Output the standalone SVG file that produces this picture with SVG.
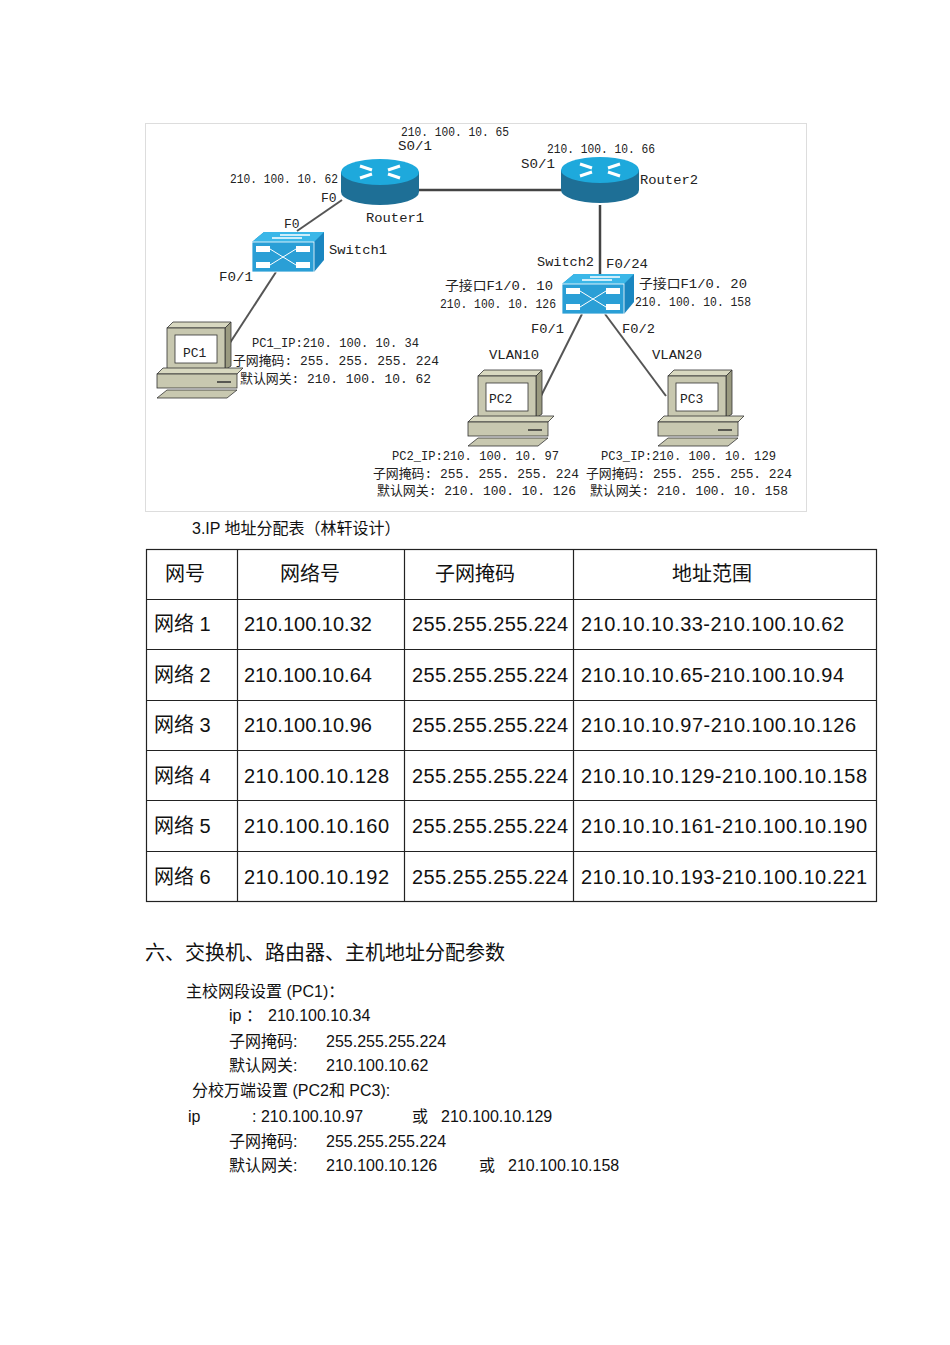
<svg xmlns="http://www.w3.org/2000/svg" xmlns:xlink="http://www.w3.org/1999/xlink" width="950" height="1345" viewBox="0 0 950 1345">
<style>
.d{font-family:"Liberation Mono","Noto Sans CJK SC",monospace;font-size:13px;fill:#222}
.t{font-family:"Liberation Sans","Noto Sans CJK SC",sans-serif;font-size:20px;fill:#111}
.b{font-family:"Liberation Sans","Noto Sans CJK SC",sans-serif;font-size:16px;fill:#111}
.h{font-family:"Liberation Sans","Noto Sans CJK SC",sans-serif;font-size:20px;fill:#111}
.ln{stroke:#444;stroke-width:2.5;fill:none}
.ln2{stroke:#555;stroke-width:2;fill:none}
.g{stroke:#222;stroke-width:1.2;fill:none}
</style>
<defs>
<g id="router">
<path d="M-39,0 v20 a39,13 0 0 0 78,0 v-20 z" fill="#1e6f96"/>
<ellipse cx="0" cy="0" rx="39" ry="13" fill="#1ea9dc"/>
<path d="M-20,-6 l12,4 M20,-6 l-12,4 M-20,6 l12,-4 M20,6 l-12,-4" stroke="#fff" stroke-width="3"/>
</g>
<g id="switch">
<path d="M0,10 L12,0 H72 L72,28 L62,40 H0 Z" fill="#1a86c0"/>
<path d="M0,10 L12,0 H72 L62,10 Z" fill="#3bb7e8"/>
<rect x="0" y="10" width="62" height="30" fill="#2a9fd6" stroke="#fff" stroke-width="0.8"/>
<rect x="4" y="14" width="14" height="6" fill="#fff"/><rect x="44" y="14" width="14" height="6" fill="#fff"/>
<rect x="4" y="30" width="14" height="6" fill="#fff"/><rect x="44" y="30" width="14" height="6" fill="#fff"/>
<path d="M18,17 L44,33 M18,33 L44,17" stroke="#fff" stroke-width="1"/>
<path d="M20,6 h30 M28,3 h30" stroke="#fff" stroke-width="1.5"/>
</g>
<g id="pc">
<path d="M0,6 L6,0 H64 L58,6 Z" fill="#d8d8c0" stroke="#333" stroke-width="0.8"/>
<path d="M58,6 L64,0 V44 L58,48 Z" fill="#9a9a80" stroke="#333" stroke-width="0.8"/>
<rect x="0" y="6" width="58" height="42" fill="#c8c8b0" stroke="#333" stroke-width="0.8"/>
<rect x="8" y="13" width="42" height="28" fill="#fff" stroke="#333" stroke-width="0.8"/>
<path d="M-10,52 L-4,46 H76 L70,52 Z" fill="#d8d8c0" stroke="#333" stroke-width="0.8"/>
<rect x="-10" y="52" width="80" height="14" fill="#c8c8b0" stroke="#333" stroke-width="0.8"/>
<path d="M50,60 h14" stroke="#333" stroke-width="1.5"/>
<path d="M-10,76 L0,68 H70 L60,76 Z" fill="#c8c8b0" stroke="#333" stroke-width="0.8"/>
</g>
</defs>
<rect width="950" height="1345" fill="#fff"/>
<rect x="145.5" y="123.5" width="661" height="388" fill="#fff" stroke="#ddd"/>
<g id="connectors">
<line class="ln" x1="418" y1="190" x2="562" y2="190"/>
<line class="ln" x1="600" y1="205" x2="600" y2="276"/>
<line class="ln2" x1="342" y1="200" x2="297" y2="231"/>
<line class="ln2" x1="276" y1="272" x2="224" y2="352"/>
<line class="ln2" x1="582" y1="314" x2="537" y2="404"/>
<line class="ln2" x1="605" y1="314" x2="666" y2="396"/>
</g>
<g id="router1"><use xlink:href="#router" x="380" y="172"/><text class="d" x="366" y="222" textLength="58" lengthAdjust="spacingAndGlyphs">Router1</text></g>
<g id="router2"><use xlink:href="#router" x="600" y="170"/><text class="d" x="640" y="184" textLength="58" lengthAdjust="spacingAndGlyphs">Router2</text></g>
<g id="switch1"><use xlink:href="#switch" x="252" y="232"/><text class="d" x="329" y="254" textLength="58" lengthAdjust="spacingAndGlyphs">Switch1</text></g>
<g id="switch2"><use xlink:href="#switch" x="562" y="274"/><text class="d" x="537" y="266" textLength="57" lengthAdjust="spacingAndGlyphs">Switch2</text></g>
<g id="pc1"><use xlink:href="#pc" x="167" y="322"/><text class="d" x="183" y="357" font-size="12">PC1</text></g>
<g id="pc2"><use xlink:href="#pc" x="478" y="370"/><text class="d" x="489" y="403" font-size="12">PC2</text></g>
<g id="pc3"><use xlink:href="#pc" x="668" y="370"/><text class="d" x="680" y="403" font-size="12">PC3</text></g>
<g id="labels">
<text class="d" x="401" y="136" textLength="108" lengthAdjust="spacingAndGlyphs">210. 100. 10. 65</text>
<text class="d" x="398" y="150" textLength="34" lengthAdjust="spacingAndGlyphs">S0/1</text>
<text class="d" x="230" y="183" textLength="108" lengthAdjust="spacingAndGlyphs">210. 100. 10. 62</text>
<text class="d" x="321" y="202">F0</text>
<text class="d" x="284" y="228">F0</text>
<text class="d" x="219" y="281" textLength="34" lengthAdjust="spacingAndGlyphs">F0/1</text>
<text class="d" x="547" y="153" textLength="108" lengthAdjust="spacingAndGlyphs">210. 100. 10. 66</text>
<text class="d" x="521" y="168" textLength="34" lengthAdjust="spacingAndGlyphs">S0/1</text>
<text class="d" x="606" y="268" textLength="42" lengthAdjust="spacingAndGlyphs">F0/24</text>
<text class="d" x="445" y="290" textLength="108" lengthAdjust="spacingAndGlyphs">子接口F1/0. 10</text>
<text class="d" x="440" y="308" textLength="116" lengthAdjust="spacingAndGlyphs">210. 100. 10. 126</text>
<text class="d" x="639" y="288" textLength="108" lengthAdjust="spacingAndGlyphs">子接口F1/0. 20</text>
<text class="d" x="635" y="306" textLength="116" lengthAdjust="spacingAndGlyphs">210. 100. 10. 158</text>
<text class="d" x="531" y="333" textLength="33" lengthAdjust="spacingAndGlyphs">F0/1</text>
<text class="d" x="622" y="333" textLength="33" lengthAdjust="spacingAndGlyphs">F0/2</text>
<text class="d" x="489" y="359" textLength="50" lengthAdjust="spacingAndGlyphs">VLAN10</text>
<text class="d" x="652" y="359" textLength="50" lengthAdjust="spacingAndGlyphs">VLAN20</text>
<text class="d" x="252" y="347" textLength="167" lengthAdjust="spacingAndGlyphs">PC1_IP:210. 100. 10. 34</text>
<text class="d" x="233" y="365" textLength="206" lengthAdjust="spacingAndGlyphs">子网掩码: 255. 255. 255. 224</text>
<text class="d" x="240" y="383" textLength="191" lengthAdjust="spacingAndGlyphs">默认网关: 210. 100. 10. 62</text>
<text class="d" x="392" y="460" textLength="167" lengthAdjust="spacingAndGlyphs">PC2_IP:210. 100. 10. 97</text>
<text class="d" x="373" y="478" textLength="206" lengthAdjust="spacingAndGlyphs">子网掩码: 255. 255. 255. 224</text>
<text class="d" x="377" y="495" textLength="199" lengthAdjust="spacingAndGlyphs">默认网关: 210. 100. 10. 126</text>
<text class="d" x="601" y="460" textLength="175" lengthAdjust="spacingAndGlyphs">PC3_IP:210. 100. 10. 129</text>
<text class="d" x="586" y="478" textLength="206" lengthAdjust="spacingAndGlyphs">子网掩码: 255. 255. 255. 224</text>
<text class="d" x="590" y="495" textLength="198" lengthAdjust="spacingAndGlyphs">默认网关: 210. 100. 10. 158</text>
</g>
<text class="b" x="192" y="534">3.IP  地址分配表（林轩设计）</text>
<g id="table">
<rect x="146.5" y="549.5" width="730" height="352" fill="none" stroke="#222" stroke-width="1.2"/>
<path class="g" d="M146,599.5H877M146,649.5H877M146,700.5H877M146,750.5H877M146,800.5H877M146,851.5H877M237.5,549V902M404.5,549V902M573.5,549V902"/>
<text class="t" x="165" y="581">网号</text><text class="t" x="280" y="581">网络号</text><text class="t" x="435" y="581">子网掩码</text><text class="t" x="672" y="581">地址范围</text>
<text class="t" x="154" y="631">网络 1</text><text class="t" x="244" y="631">210.100.10.32</text><text class="t" x="412" y="631" textLength="156">255.255.255.224</text><text class="t" x="581" y="631" textLength="263">210.10.10.33-210.100.10.62</text>
<text class="t" x="154" y="682">网络 2</text><text class="t" x="244" y="682">210.100.10.64</text><text class="t" x="412" y="682" textLength="156">255.255.255.224</text><text class="t" x="581" y="682" textLength="263">210.10.10.65-210.100.10.94</text>
<text class="t" x="154" y="732">网络 3</text><text class="t" x="244" y="732">210.100.10.96</text><text class="t" x="412" y="732" textLength="156">255.255.255.224</text><text class="t" x="581" y="732" textLength="275">210.10.10.97-210.100.10.126</text>
<text class="t" x="154" y="783">网络 4</text><text class="t" x="244" y="783" textLength="145">210.100.10.128</text><text class="t" x="412" y="783" textLength="156">255.255.255.224</text><text class="t" x="581" y="783" textLength="286">210.10.10.129-210.100.10.158</text>
<text class="t" x="154" y="833">网络 5</text><text class="t" x="244" y="833" textLength="145">210.100.10.160</text><text class="t" x="412" y="833" textLength="156">255.255.255.224</text><text class="t" x="581" y="833" textLength="286">210.10.10.161-210.100.10.190</text>
<text class="t" x="154" y="884">网络 6</text><text class="t" x="244" y="884" textLength="145">210.100.10.192</text><text class="t" x="412" y="884" textLength="156">255.255.255.224</text><text class="t" x="581" y="884" textLength="286">210.10.10.193-210.100.10.221</text>
</g>
<text class="h" x="145" y="960">六、交换机、路由器、主机地址分配参数</text>
<text class="b" x="186" y="997">主校网段设置 (PC1)：</text>
<text class="b" x="229" y="1021">ip ：</text><text class="b" x="268" y="1021">210.100.10.34</text>
<text class="b" x="229" y="1047">子网掩码:</text><text class="b" x="326" y="1047">255.255.255.224</text>
<text class="b" x="229" y="1071">默认网关:</text><text class="b" x="326" y="1071">210.100.10.62</text>
<text class="b" x="192" y="1096">分校万端设置 (PC2和  PC3):</text>
<text class="b" x="188" y="1122">ip</text>
<text class="b" x="252" y="1122">: 210.100.10.97</text><text class="b" x="412" y="1122">或</text><text class="b" x="441" y="1122">210.100.10.129</text>
<text class="b" x="229" y="1147">子网掩码:</text><text class="b" x="326" y="1147">255.255.255.224</text>
<text class="b" x="229" y="1171">默认网关:</text><text class="b" x="326" y="1171">210.100.10.126</text><text class="b" x="479" y="1171">或</text><text class="b" x="508" y="1171">210.100.10.158</text>
</svg>
